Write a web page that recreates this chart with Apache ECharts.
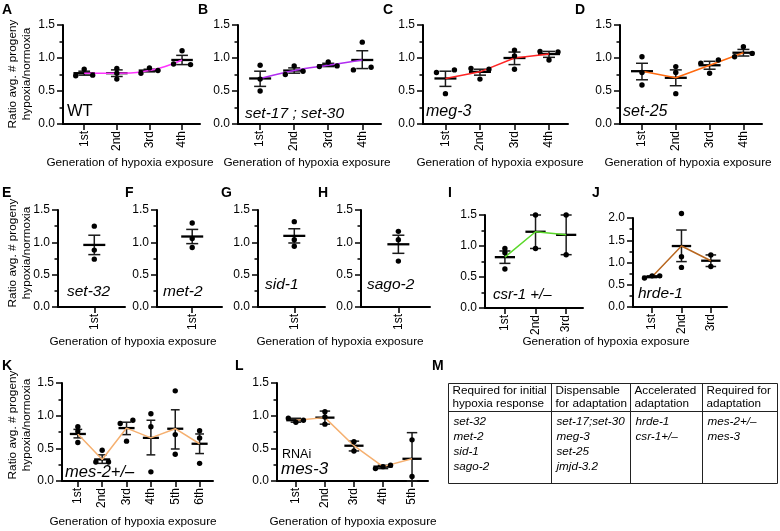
<!DOCTYPE html>
<html><head><meta charset="utf-8">
<script src="https://cdn.jsdelivr.net/npm/echarts@6/dist/echarts.min.js"></script>
<style>html,body{margin:0;padding:0;background:#fff}#c{width:780px;height:531px}</style>
</head><body><div id="c"></div>
<script>
const FONT = '"Liberation Sans", Arial, Helvetica, sans-serif';

// ---- categories ----
const gen1 = ['1st'];
const gen3 = ['1st', '2nd', '3rd'];
const gen4 = ['1st', '2nd', '3rd', '4th'];
const gen5 = ['1st', '2nd', '3rd', '4th', '5th'];
const gen6 = ['1st', '2nd', '3rd', '4th', '5th', '6th'];

// ---- A: WT ----
const A_points = [[0.83, 0.73, 0.74], [0.84, 0.68, 0.77], [0.77, 0.85, 0.81], [0.91, 1.11, 0.90]];
const A_mean = [0.77, 0.77, 0.81, 0.97];
const A_low = [0.74, 0.72, 0.79, 0.90];
const A_high = [0.80, 0.82, 0.83, 1.04];
// ---- B: set-17;set-30 ----
const B_points = [[0.89, 0.50, 0.68], [0.75, 0.88, 0.80], [0.87, 0.94, 0.88], [0.82, 1.24, 0.86]];
const B_mean = [0.69, 0.81, 0.89, 0.97];
const B_low = [0.57, 0.77, 0.87, 0.84];
const B_high = [0.80, 0.85, 0.92, 1.11];
// ---- C: meg-3 ----
const C_points = [[0.78, 0.46, 0.82], [0.84, 0.68, 0.83], [1.12, 1.03, 0.83], [1.10, 0.97, 1.09]];
const C_mean = [0.69, 0.79, 1.00, 1.06];
const C_low = [0.57, 0.74, 0.90, 1.01];
const C_high = [0.80, 0.83, 1.09, 1.10];
// ---- D: set-25 ----
const D_points = [[1.02, 0.78, 0.59], [0.87, 0.78, 0.46], [0.92, 0.77, 0.97], [1.02, 1.17, 1.07]];
const D_mean = [0.80, 0.70, 0.89, 1.08];
const D_low = [0.67, 0.58, 0.83, 1.03];
const D_high = [0.92, 0.82, 0.95, 1.13];
// ---- E-H: single generation ----
const E_points = [[1.25, 0.88, 0.74]];
const E_mean = [0.96]; const E_low = [0.81]; const E_high = [1.11];
const F_points = [[1.30, 1.06, 0.92]];
const F_mean = [1.09]; const F_low = [0.98]; const F_high = [1.20];
const G_points = [[1.32, 1.04, 0.94]];
const G_mean = [1.10]; const G_low = [0.99]; const G_high = [1.21];
const H_points = [[1.17, 1.04, 0.71]];
const H_mean = [0.97]; const H_low = [0.83]; const H_high = [1.11];
// ---- I: csr-1 +/- ----
const I_points = [[0.96, 0.89, 0.63], [1.50, 0.96], [1.50, 0.86]];
const I_mean = [0.82, 1.23, 1.18];
const I_low = [0.72, 0.96, 0.86];
const I_high = [0.92, 1.50, 1.50];
// ---- J: hrde-1 ----
const J_points = [[0.65, 0.70, 0.70], [2.10, 1.13, 0.89], [1.17, 0.91]];
const J_mean = [0.68, 1.37, 1.04];
const J_low = [0.66, 1.02, 0.91];
const J_high = [0.70, 1.73, 1.17];
// ---- K: mes-2+/- ----
const K_points = [[0.83, 0.76, 0.59], [0.29, 0.47, 0.29], [0.88, 0.61, 0.93], [1.03, 0.83, 0.14], [1.38, 0.71, 0.41], [0.77, 0.66, 0.27]];
const K_mean = [0.72, 0.33, 0.81, 0.66, 0.80, 0.57];
const K_low = [0.66, 0.27, 0.71, 0.40, 0.49, 0.42];
const K_high = [0.79, 0.40, 0.90, 0.93, 1.09, 0.72];
// ---- L: RNAi mes-3 ----
const L_points = [[0.96, 0.90, 0.93], [1.06, 0.87, 0.98], [0.60, 0.46], [0.19, 0.22, 0.24], [0.63, 0.07]];
const L_mean = [0.93, 0.97, 0.54, 0.22, 0.34];
const L_low = [0.90, 0.87, 0.46, 0.19, 0.00];
const L_high = [0.96, 1.07, 0.61, 0.24, 0.74];

// ---- table M ----
const M_headers = [['Required for initial', 'hypoxia response'], ['Dispensable', 'for adaptation'], ['Accelerated', 'adaptation'], ['Required for', 'adaptation']];
const M_rows = [['set-32', 'met-2', 'sid-1', 'sago-2'], ['set-17;set-30', 'meg-3', 'set-25', 'jmjd-3.2'], ['hrde-1', 'csr-1+/\u2013'], ['mes-2+/\u2013', 'mes-3']];

// ---- layout (left, right, top, zeroY) ----
const panels = [
  {cats: gen4, pts: A_points, mean: A_mean, lo: A_low, hi: A_high, color: '#ff33ff', smooth: 0.45, lay: [63, 200, 25, 124], ymax: 1.5},
  {cats: gen4, pts: B_points, mean: B_mean, lo: B_low, hi: B_high, color: '#b02cf0', smooth: 0.3, lay: [238, 381, 25, 124], ymax: 1.5},
  {cats: gen4, pts: C_points, mean: C_mean, lo: C_low, hi: C_high, color: '#ff2424', smooth: false, lay: [423, 568, 25, 124], ymax: 1.5},
  {cats: gen4, pts: D_points, mean: D_mean, lo: D_low, hi: D_high, color: '#ff6a10', smooth: false, lay: [620, 762, 25, 124], ymax: 1.5},
  {cats: gen1, pts: E_points, mean: E_mean, lo: E_low, hi: E_high, color: null, lay: [58, 125, 210, 307], ymax: 1.5},
  {cats: gen1, pts: F_points, mean: F_mean, lo: F_low, hi: F_high, color: null, lay: [157, 222, 210, 307], ymax: 1.5},
  {cats: gen1, pts: G_points, mean: G_mean, lo: G_low, hi: G_high, color: null, lay: [258, 325, 210, 307], ymax: 1.5},
  {cats: gen1, pts: H_points, mean: H_mean, lo: H_low, hi: H_high, color: null, lay: [361, 430, 210, 307], ymax: 1.5},
  {cats: gen3, pts: I_points, mean: I_mean, lo: I_low, hi: I_high, color: '#5ad82a', smooth: false, lay: [485, 583, 215, 308], ymax: 1.5},
  {cats: gen3, pts: J_points, mean: J_mean, lo: J_low, hi: J_high, color: '#b8661e', smooth: false, lay: [633, 727, 218, 307], ymax: 2.0},
  {cats: gen6, pts: K_points, mean: K_mean, lo: K_low, hi: K_high, color: '#f5b070', smooth: false, lay: [62, 213, 383, 481], ymax: 1.5},
  {cats: gen5, pts: L_points, mean: L_mean, lo: L_low, hi: L_high, color: '#f5b070', smooth: false, lay: [277, 428, 383, 481], ymax: 1.5}
];

function jitter(vals, thr) {
  const order = vals.map((v, i) => i).sort((a, b) => vals[a] - vals[b]);
  const groups = []; let cur = [order[0]];
  for (let q = 1; q < order.length; q++) {
    if (vals[order[q]] - vals[order[q - 1]] < thr) cur.push(order[q]);
    else { groups.push(cur); cur = [order[q]]; }
  }
  groups.push(cur);
  const offs = new Array(vals.length).fill(0);
  groups.forEach(g => {
    g.sort((a, b) => a - b);
    const k = g.length;
    g.forEach((id, m) => { offs[id] = k === 1 ? 0 : (k === 2 ? (m === 0 ? -1 : 1) : (m - (k - 1) / 2)); });
  });
  return offs;
}

const grid = [], xAxis = [], yAxis = [], series = [];
panels.forEach((p, k) => {
  const [l, r, t, b] = p.lay;
  const n = p.cats.length;
  const idx = p.cats.map((c, i) => i);
  grid.push({left: l, top: t, width: r - l, height: b - t});
  xAxis.push({
    type: 'value', gridIndex: k, min: -0.65, max: n - 0.45,
    splitLine: {show: false},
    axisLine: {show: true, onZero: false, lineStyle: {color: '#000', width: 2}},
    axisTick: {show: true, length: 6, customValues: idx, lineStyle: {color: '#000', width: 1.5}},
    axisLabel: {show: true, customValues: idx, rotate: 90, margin: 7, fontSize: 12, fontFamily: FONT, color: '#000',
      formatter: v => p.cats[Math.round(v)]}
  });
  yAxis.push({
    type: 'value', gridIndex: k, min: 0, max: p.ymax, interval: 0.5,
    splitLine: {show: false},
    axisLine: {show: true, onZero: false, lineStyle: {color: '#000', width: 2}},
    axisTick: {show: true, length: 6, lineStyle: {color: '#000', width: 1.5}},
    minorTick: {show: true, splitNumber: 2, length: 3.5, lineStyle: {color: '#000', width: 1.5}},
    minorSplitLine: {show: false},
    axisLabel: {fontSize: 12, fontFamily: FONT, color: '#000', margin: 8, formatter: v => v.toFixed(1)}
  });
  const band = (r - l) / (n + 0.2);
  const meanHW = Math.min(11, band * 0.33), capHW = Math.min(6, band * 0.18), offPx = Math.min(9, band * 0.26);
  const thr = 3.6 / ((b - t) / p.ymax);
  series.push({
    type: 'custom', xAxisIndex: k, yAxisIndex: k, z: 3, silent: true, animation: false,
    data: p.mean.map((m, i) => [i, m, p.lo[i], p.hi[i]]),
    renderItem: (params, api) => {
      const x = api.value(0);
      const pm = api.coord([x, api.value(1)]), pl = api.coord([x, api.value(2)]), ph = api.coord([x, api.value(3)]);
      const st = {stroke: '#1a1a1a', lineWidth: 1.5};
      return {type: 'group', children: [
        {type: 'line', shape: {x1: pl[0], y1: pl[1], x2: ph[0], y2: ph[1]}, style: st},
        {type: 'line', shape: {x1: pl[0] - capHW, y1: pl[1], x2: pl[0] + capHW, y2: pl[1]}, style: st},
        {type: 'line', shape: {x1: ph[0] - capHW, y1: ph[1], x2: ph[0] + capHW, y2: ph[1]}, style: st},
        {type: 'line', shape: {x1: pm[0] - meanHW, y1: pm[1], x2: pm[0] + meanHW, y2: pm[1]}, style: {stroke: '#000', lineWidth: 2.3}}
      ]};
    }
  });
  if (p.color) {
    series.push({
      type: 'line', xAxisIndex: k, yAxisIndex: k, z: 4, silent: true, animation: false,
      data: p.mean.map((m, i) => [i, m]), smooth: p.smooth || false, symbol: 'none',
      lineStyle: {color: p.color, width: 1.5}
    });
  }
  const ptData = [];
  p.pts.forEach((vals, i) => {
    const offs = jitter(vals, thr);
    vals.forEach((v, j) => ptData.push([i, v, offs[j]]));
  });
  series.push({
    type: 'custom', xAxisIndex: k, yAxisIndex: k, z: 5, silent: true, animation: false,
    data: ptData,
    renderItem: (params, api) => {
      const c = api.coord([api.value(0), api.value(1)]);
      return {type: 'circle', shape: {cx: c[0] + api.value(2) * offPx, cy: c[1], r: 2.7}, style: {fill: '#000'}};
    }
  });
});

// ---- graphic texts ----
function txt(x, y, s, size, opts) {
  opts = opts || {};
  const font = (opts.italic ? 'italic ' : '') + (opts.bold ? 'bold ' : '') + size + 'px ' + FONT;
  const al = opts.align || 'left', va = opts.va || 'middle';
  return {type: 'text', x: x, y: y, rotation: opts.rot || 0, silent: true, z: 20,
    style: {text: s, font: font, fill: '#000', textAlign: al, textVerticalAlign: va, align: al, verticalAlign: va,
      lineHeight: opts.lh || size * 1.2}};
}
const G = [];
const GEN = 'Generation of hypoxia exposure';
[[130, 163], [307, 163], [500, 163], [688, 163], [133, 342], [340, 342], [606, 342], [133, 522], [353, 522]]
  .forEach(([x, y]) => G.push(txt(x, y, GEN, 11.8, {align: 'center'})));
const YT = 'Ratio avg. # progeny\nhypoxia/normoxia';
[[20, 74], [20, 253], [20, 425]].forEach(([x, y]) => G.push(txt(x, y, YT, 11.8, {align: 'center', rot: Math.PI / 2, lh: 14})));
[['A', 2, 2], ['B', 198, 2], ['C', 383, 2], ['D', 575, 2], ['E', 2, 185], ['F', 125, 185], ['G', 221, 185], ['H', 318, 185],
 ['I', 448, 185], ['J', 592, 185], ['K', 2, 358], ['L', 235, 358], ['M', 432, 358]]
  .forEach(([s, x, y]) => G.push(txt(x, y, s, 14, {bold: true, va: 'top'})));
G.push(txt(67, 111, 'WT', 16.5));
G.push(txt(245, 114, 'set-17 ; set-30', 15.5, {italic: true}));
G.push(txt(426, 112, 'meg-3', 16, {italic: true}));
G.push(txt(623, 112, 'set-25', 16, {italic: true}));
G.push(txt(67, 292, 'set-32', 15.5, {italic: true}));
G.push(txt(163, 292, 'met-2', 15.5, {italic: true}));
G.push(txt(265, 285, 'sid-1', 15.5, {italic: true}));
G.push(txt(367, 285, 'sago-2', 15.5, {italic: true}));
G.push(txt(493, 295, 'csr-1 +/\u2013', 15, {italic: true}));
G.push(txt(638, 294, 'hrde-1', 15.5, {italic: true}));
G.push(txt(65, 472, 'mes-2+/\u2013', 16.5, {italic: true}));
G.push(txt(282, 455, 'RNAi', 12.5));
G.push(txt(281, 469, 'mes-3', 17, {italic: true}));

// table M
const tL = 448.5, tT = 383.5, tR = 777.5, tB = 483.5, tH = 411.5;
const colX = [448.5, 551.5, 630.5, 702.5];
G.push({type: 'rect', silent: true, z: 20, shape: {x: tL, y: tT, width: tR - tL, height: tB - tT}, style: {fill: 'none', stroke: '#222', lineWidth: 1}});
G.push({type: 'line', silent: true, z: 20, shape: {x1: tL, y1: tH, x2: tR, y2: tH}, style: {stroke: '#222', lineWidth: 1}});
colX.slice(1).forEach(x => G.push({type: 'line', silent: true, z: 20, shape: {x1: x, y1: tT, x2: x, y2: tB}, style: {stroke: '#222', lineWidth: 1}}));
M_headers.forEach((h, c) => {
  G.push(txt(colX[c] + 4, 391, h[0], 11.7));
  G.push(txt(colX[c] + 4, 404, h[1], 11.7));
});
M_rows.forEach((rows, c) => rows.forEach((s, r) => G.push(txt(colX[c] + 5, 422 + r * 15, s, 11.7, {italic: true}))));

const chart = echarts.init(document.getElementById('c'), null, {renderer: 'canvas'});
chart.setOption({
  animation: false,
  backgroundColor: '#fff',
  textStyle: {fontFamily: FONT},
  grid, xAxis, yAxis, series,
  graphic: {elements: G}
});
</script></body></html>
